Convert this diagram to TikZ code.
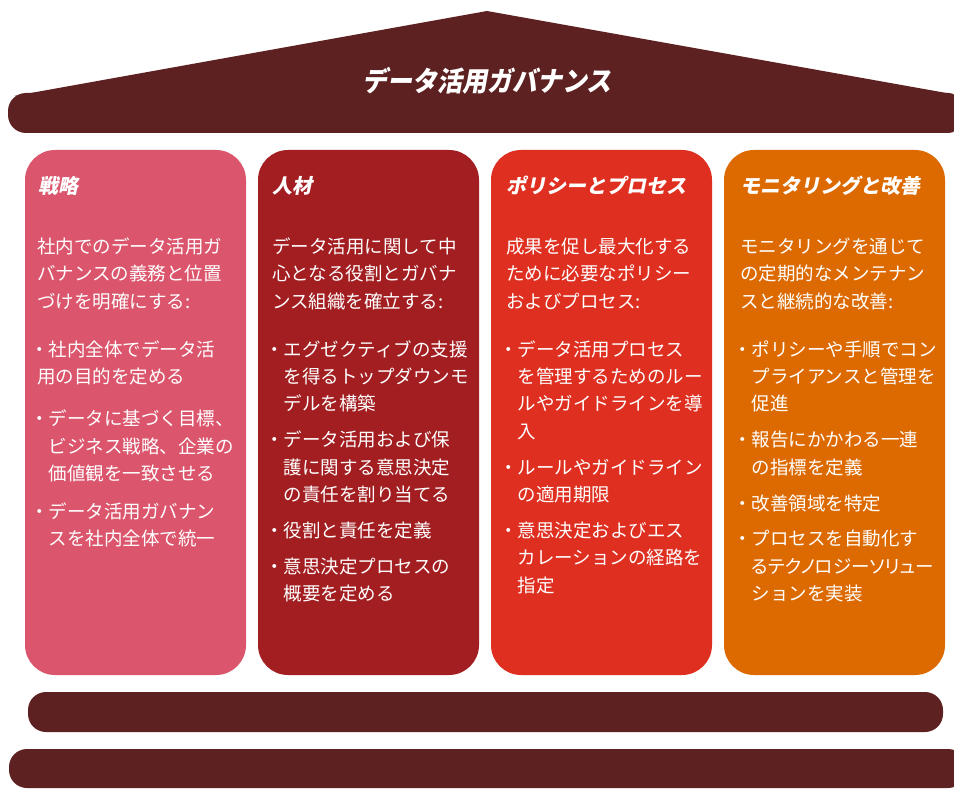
\documentclass[tikz,border=0pt]{standalone}
\usepackage{fontspec}
\newfontfamily\jp{Noto Sans CJK JP}
\newfontfamily\jpp{Noto Sans CJK JP}[RawFeature=+palt]
\newfontfamily\jph{Noto Sans CJK JP}[FakeSlant=0.2]
\definecolor{roofc}{HTML}{5E2121}
\definecolor{colA}{HTML}{DB566D}
\definecolor{colB}{HTML}{A21E21}
\definecolor{colC}{HTML}{DE2F20}
\definecolor{colD}{HTML}{DC6A00}
\newcommand\mybul{\makebox[11.5pt][l]{\kern-6.25pt ・}}
\newcommand\myind{\hspace*{11.5pt}}
\newcommand\mystrut{\rule{0pt}{17pt}}
\tikzset{
  pillar/.style={rectangle, rounded corners=30pt, minimum width=221pt, minimum height=525pt, inner sep=0pt, draw=none},
  band/.style={rectangle, rounded corners=18pt, inner sep=0pt, draw=none, fill=roofc},
  head/.style={anchor=base west, inner sep=0pt, text=white, font=\jph\bfseries\fontsize{20}{24}\selectfont},
  body/.style={anchor=north west, inner sep=0pt, text=white, align=left, font=\jp\fontsize{18.5}{27.4}\selectfont},
  titletext/.style={anchor=base, inner sep=0pt, text=white, font=\jph\bfseries\fontsize{25}{30}\selectfont}
}
\begin{document}
\begin{tikzpicture}[x=1pt, y=-1pt]
\useasboundingbox (0,0) rectangle (954,797);
\fill[white] (0,0) rectangle (954,797);
% roof
\node[band, minimum width=892pt, minimum height=40pt] (roofbandL) at (454,113) {};
\node[band, rounded corners=9pt, minimum width=858pt, minimum height=40pt] (roofbandR) at (529,113) {};
\fill[roofc] (14,96) -- (487,11) -- (952,94) -- cycle;
\node[titletext] (title) at (487,91.5) {\scalebox{1}[1.1]{データ活用ガバナンス}};
% pillars
\node[pillar, fill=colA] (c1) at (135.5,412.5) {};
\node[pillar, fill=colB] (c2) at (368.5,412.5) {};
\node[pillar, fill=colC] (c3) at (601.5,412.5) {};
\node[pillar, fill=colD] (c4) at (834.5,412.5) {};
% headings
\node[head] (h1) at (38,193.6) {戦略};
\node[head] (h2) at (272,193.6) {人材};
\node[head] (h3) at (506,193.6) {ポリシーとプロセス};
\node[head] (h4) at (740,193.6) {モニタリングと改善};
% bodies
\node[body] (b1) at (37,236) {\mystrut 社内でのデータ活用ガ\\%
バナンスの義務と位置\\%
づけを明確にする:\\[20.6pt]%
\mybul 社内全体でデータ活\\%
用の目的を定める\\[15pt]%
\mybul データに基づく目標、\\%
\myind ビジネス戦略、企業の\\%
\myind 価値観を一致させる\\[10pt]%
\mybul データ活用ガバナン\\%
\myind スを社内全体で統一};
\node[body] (b2) at (272,236) {\mystrut データ活用に関して中\\%
心となる役割とガバナ\\%
ンス組織を確立する:\\[20.6pt]%
\mybul エグゼクティブの支援\\%
\myind を得るトップダウンモ\\%
\myind デルを構築\\[8.5pt]%
\mybul データ活用および保\\%
\myind 護に関する意思決定\\%
\myind の責任を割り当てる\\[8.5pt]%
\mybul 役割と責任を定義\\[8.5pt]%
\mybul 意思決定プロセスの\\%
\myind 概要を定める};
\node[body] (b3) at (506,236) {\mystrut 成果を促し最大化する\\%
ために必要なポリシー\\%
およびプロセス:\\[20.6pt]%
\mybul データ活用プロセス\\%
\myind を管理するためのルー\\%
\myind ルやガイドラインを導\\%
\myind 入\\[8.5pt]%
\mybul ルールやガイドライン\\%
\myind の適用期限\\[8.5pt]%
\mybul 意思決定およびエス\\%
\myind カレーションの経路を\\%
\myind 指定};
\node[body] (b4) at (740,236) {\mystrut モニタリングを通じて\\%
の定期的なメンテナン\\%
スと継続的な改善:\\[20.6pt]%
\mybul ポリシーや手順でコン\\%
\myind プライアンスと管理を\\%
\myind 促進\\[8.5pt]%
\mybul 報告にかかわる一連\\%
\myind の指標を定義\\[8.5pt]%
\mybul 改善領域を特定\\[8.5pt]%
\mybul プロセスを自動化す\\%
\myind {\jpp るテクノロジーソリュー}\\%
\myind ションを実装};
% base steps
\node[band, minimum width=915pt, minimum height=40pt] (step1) at (485.5,712) {};
\node[band, minimum width=957pt, minimum height=39pt] (step2) at (487.5,768.5) {};
\end{tikzpicture}
\end{document}
